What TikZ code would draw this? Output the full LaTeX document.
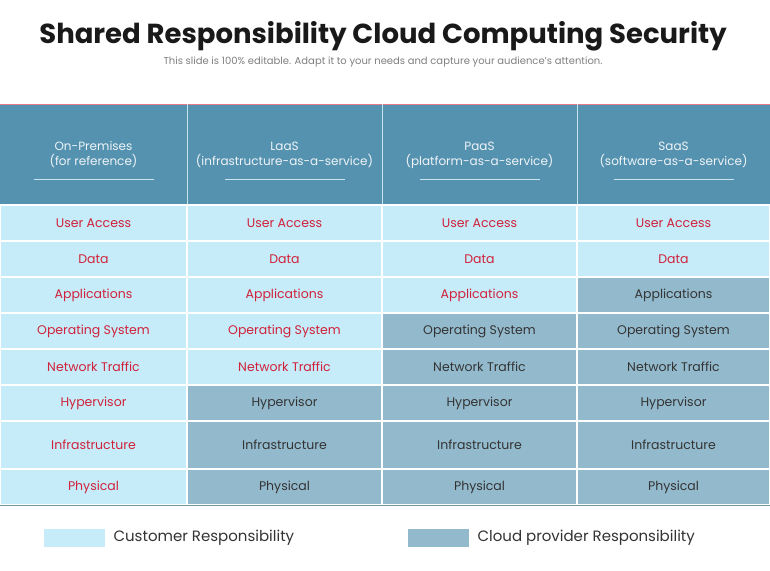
\documentclass[tikz,border=0pt]{standalone}
\usepackage{fontspec}
\setmainfont{Poppins}
\definecolor{hdr}{HTML}{5592B0}
\definecolor{cust}{HTML}{C6EBF9}
\definecolor{prov}{HTML}{93BACC}
\definecolor{redt}{HTML}{D0223A}
\definecolor{darkt}{HTML}{333333}
\definecolor{hline}{HTML}{C8E4EE}
\tikzset{cell/.style={draw=white,line width=1.2pt},
 ctxt/.style={font=\fontsize{12.5}{14}\selectfont,anchor=center},
 htxt/.style={font=\fontsize{12}{15}\selectfont,text=white!90!hdr,align=center,anchor=center}}
\begin{document}
\begin{tikzpicture}[x=1pt,y=-1pt]
\useasboundingbox (0,0) rectangle (770,570);
\fill[white] (0,0) rectangle (770,570);
\node (title) at (383,36) {\fontsize{27.5}{32}\selectfont\bfseries\color{black!90}Shared Responsibility Cloud Computing Security};
\node (sub) at (383,62) {\fontsize{10}{12}\selectfont\color{black!50}This slide is 100\% editable. Adapt it to your needs and capture your audience's attention.};
\fill[hdr] (0,104) rectangle (770,205);
\draw[redt!60,line width=0.8pt] (0,104) -- (770,104);
\foreach \x in {187,382,577} \draw[hline,line width=1pt] (\x,104) -- (\x,205);
\foreach \xa/\xb/\a/\b in {0/187/On-Premises/(for reference),187/382/LaaS/(infrastructure-as-a-service),382/577/PaaS/(platform-as-a-service),577/770/SaaS/(software-as-a-service)}{
 \pgfmathsetmacro\cx{(\xa+\xb)/2}
 \node[htxt] (h\xa) at (\cx,155) {\a\\\b};
 \draw[hline,line width=0.8pt] (\cx-60,179) -- (\cx+60,179);
}
\foreach \r/\ya/\yb/\t in {0/205/241/User Access,1/241/277/Data,2/277/313/Applications,3/313/349/Operating System,4/349/385/Network Traffic,5/385/421/Hypervisor,6/421/469/Infrastructure,7/469/505/Physical}{
 \foreach \c/\xa/\xb/\fp in {0/0/187/6,1/187/382/6,2/382/577/4,3/577/770/3}{
  \pgfmathsetmacro\cx{(\xa+\xb)/2}
  \pgfmathsetmacro\cy{(\ya+\yb)/2}
  \ifnum\r<\numexpr\fp-1\relax
   \filldraw[cell,fill=cust] (\xa,\ya) rectangle (\xb,\yb);
   \node[ctxt,text=redt] (c\r\c) at (\cx,\cy) {\t};
  \else
   \filldraw[cell,fill=prov] (\xa,\ya) rectangle (\xb,\yb);
   \node[ctxt,text=darkt] (c\r\c) at (\cx,\cy) {\t};
  \fi
 }
}
\filldraw[cell,fill=cust] (0,469) rectangle (187,505);
\node[ctxt,text=redt] (c7x) at (93.5,487) {Physical};
\filldraw[cell,fill=cust] (0,421) rectangle (187,469);
\node[ctxt,text=redt] (c6x) at (93.5,445) {Infrastructure};
\filldraw[cell,fill=cust] (0,385) rectangle (187,421);
\node[ctxt,text=redt] (c5x) at (93.5,403) {Hypervisor};
\draw[prov!80!black,line width=1pt] (0,505) -- (770,505);
\fill[cust] (44,529) rectangle (105,547);
\node[anchor=west,font=\fontsize{15}{17}\selectfont,text=darkt] (l1) at (110,538) {Customer Responsibility};
\fill[prov] (408,529) rectangle (469,547);
\node[anchor=west,font=\fontsize{15}{17}\selectfont,text=darkt] (l2) at (474,538) {Cloud provider Responsibility};
\end{tikzpicture}
\end{document}
